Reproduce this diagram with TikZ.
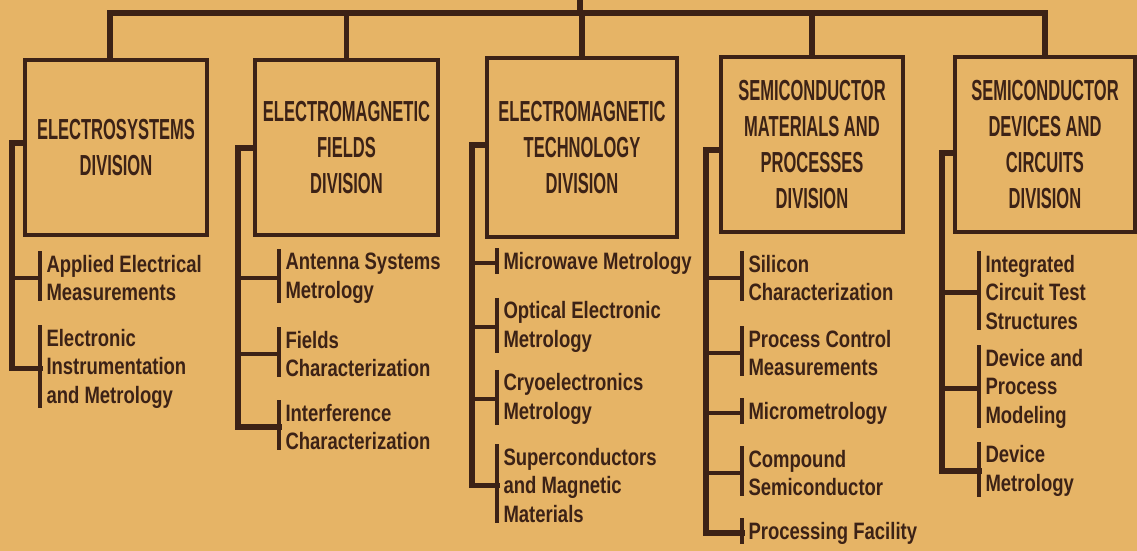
\documentclass[tikz,border=0pt]{standalone}
\usepackage{fontspec}
\usepackage{tikz}
\newfontfamily\boxfont{Liberation Sans}[FakeStretch=0.57]
\newfontfamily\unitfont{Liberation Sans}[FakeStretch=0.78]
\definecolor{paper}{RGB}{230,180,102}
\definecolor{ink}{RGB}{60,34,22}
\tikzset{
  bus/.style={draw=ink, line width=3.3pt, line cap=rect},
  branch/.style={draw=ink, line width=2.8pt},
  unitbar/.style={draw=ink, line width=2.2pt},
  divbox/.style={draw=ink, line width=2pt, align=center, text=ink, inner sep=0pt,
    font=\boxfont\bfseries\fontsize{16.5}{20.4}\selectfont},
  unitlabel/.style={anchor=west, align=left, text=ink, inner xsep=3.5pt, inner ysep=0pt,
    font=\unitfont\bfseries\fontsize{13.5}{16.2}\selectfont},
}
\begin{document}
\begin{tikzpicture}[x=0.02cm, y=-0.02cm]
\useasboundingbox (0,0) rectangle (1137,551);
\fill[paper] (0,0) rectangle (1137,551);
% Divisions
\foreach \d/\cx/\cy/\w/\h/\lab in {d1/116/147.5/182/175/{ELECTROSYSTEMS\\DIVISION},
    d2/346.5/147.5/183/175/{ELECTROMAGNETIC\\FIELDS\\DIVISION},
    d3/582/147.5/190/179/{ELECTROMAGNETIC\\TECHNOLOGY\\DIVISION},
    d4/812/144.5/182/175/{SEMICONDUCTOR\\MATERIALS AND\\PROCESSES\\DIVISION},
    d5/1045/144.5/180/175/{SEMICONDUCTOR\\DEVICES AND\\CIRCUITS\\DIVISION}} {
    \node[divbox, minimum width=\w*0.02cm, minimum height=\h*0.02cm] (\d) at (\cx,\cy) {\lab};
}
% Top bus
\coordinate (head) at (580,0);
\coordinate (top) at (580,13);
\draw[bus] ([xshift=-0.12cm]d1.north) |- (top) -| (d5.north);
\foreach \d in {d2,d3,d4}
    \draw[bus] (\d.north) -- (\d.north |- top);
\draw[bus] (head) -- (top);
% Spines
\coordinate (s1) at (12,143);
\coordinate (s2) at (238,148);
\coordinate (s3) at (472,145);
\coordinate (s4) at (706,150);
\coordinate (s5) at (942,153);
% Units
\foreach \s/\u/\bx/\y/\lab in {s1/u11/40/278/{Applied Electrical\\Measurements},
    s1/u12/40/368.5/{Electronic\\Instrumentation\\and Metrology},
    s2/u21/279/278/{Antenna Systems\\Metrology},
    s2/u22/279/354/{Fields\\Characterization},
    s2/u23/279/427/{Interference\\Characterization},
    s3/u31/497/263/{Microwave Metrology},
    s3/u32/497/327/{Optical Electronic\\Metrology},
    s3/u33/497/399/{Cryoelectronics\\Metrology},
    s3/u34/497/485.5/{Superconductors\\and Magnetic\\Materials},
    s4/u41/742/278/{Silicon\\Characterization},
    s4/u42/742/353/{Process Control\\Measurements},
    s4/u43/742/413/{Micrometrology},
    s4/u44/742/473/{Compound\\Semiconductor},
    s4/u45/742/533/{Processing Facility},
    s5/u51/979/292.5/{Integrated\\Circuit Test\\Structures},
    s5/u52/979/388.5/{Device and\\Process\\Modeling},
    s5/u53/979/471/{Device\\Metrology}} {
    \node[unitlabel] (\u) at (\bx,\y) {\lab};
    \draw[unitbar] ([yshift=2pt]\u.north west) -- (\u.south west);
    \draw[branch] (\s |- \u.west) -- (\u.west);
}
\draw[bus] (d1.west |- s1) -- (s1) |- (u12.west);
\draw[bus] (d2.west |- s2) -- (s2) |- (u23.west);
\draw[bus] (d3.west |- s3) -- (s3) |- (u34.west);
\draw[bus] (d4.west |- s4) -- (s4) |- (u45.west);
\draw[bus] (d5.west |- s5) -- (s5) |- (u53.west);
\end{tikzpicture}
\end{document}
